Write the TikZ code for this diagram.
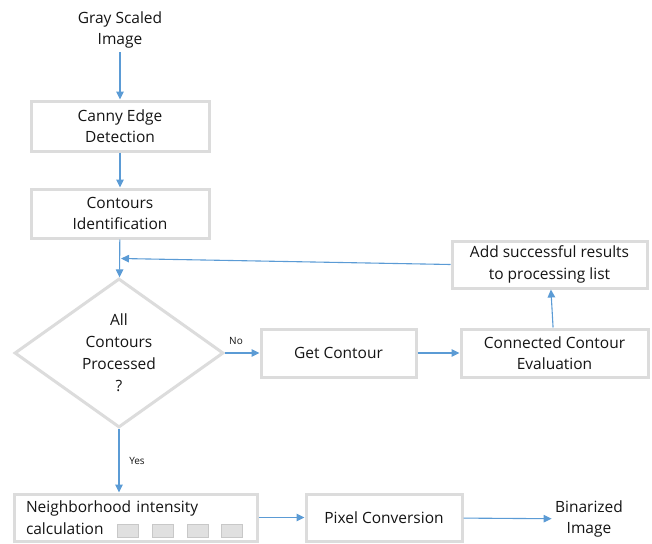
\documentclass[tikz,border=0pt]{standalone}
\usepackage{fontspec}
\setmainfont{Open Sans}
\usepackage{tikz}
\usetikzlibrary{positioning,arrows.meta,shapes.geometric}

\definecolor{boxgray}{RGB}{220,220,220}
\definecolor{flowblue}{RGB}{91,155,213}
\definecolor{txtdark}{RGB}{20,20,20}
\definecolor{cellfill}{RGB}{224,224,224}
\definecolor{cellline}{RGB}{200,200,200}

\tikzset{
    stepbox/.style={draw=boxgray, line width=3pt, align=center, inner sep=0pt,
        text=txtdark, font=\fontsize{15.5}{21.5}\selectfont},
    plaintxt/.style={align=center, text=txtdark, font=\fontsize{15.5}{21.5}\selectfont},
    decision/.style={diamond, aspect=1.4, draw=boxgray, line width=3pt, align=center,
        inner sep=0pt, minimum width=209pt, minimum height=149pt, text=txtdark,
        font=\fontsize{15.5}{22}\selectfont},
    flow/.style={draw=flowblue, line width=1.1pt, -{Triangle[length=8pt,width=7.5pt]}},
    smalllbl/.style={text=txtdark, font=\fontsize{10}{12}\selectfont, inner sep=0pt},
    cellbox/.style={fill=cellfill, draw=cellline, line width=0.8pt}
}

\begin{document}
\begin{tikzpicture}[x=1pt, y=-1pt]
        \useasboundingbox (0,0) rectangle (652,543);

        % Input
        \node[plaintxt] (gray) at (120,30) {Gray Scaled\\Image};

        % Main column
        \node[stepbox, minimum width=178pt, minimum height=50pt] (canny) at (120,126) {Canny Edge\\Detection};
        \node[stepbox, minimum width=178pt, minimum height=49pt] (contours) at (120,213.5) {Contours\\Identification};
        \node[decision] (allproc) at (119,353) {All\\Contours\\Processed\\?};

        % Loop
        \node[stepbox, minimum width=155pt, minimum height=48pt] (getc) at (338.5,353) {Get Contour};
        \node[stepbox, minimum width=187pt, minimum height=48pt] (conneval) at (554.5,353) {Connected Contour\\Evaluation};
        \node[stepbox, minimum width=195pt, minimum height=47pt] (addres) at (549.5,264.5) {Add successful results\\to processing list};
        \coordinate (merge) at (121,258.5);

        % Bottom row
        \node[stepbox, minimum width=243pt, minimum height=47pt, text width=219pt, align=left] (neigh) at (135.5,517.5) {Neighborhood intensity\\calculation};
        \foreach \x in {117,152,187,221} {
            \draw[cellbox] (\x,524) rectangle ++(21,13);
        }
        \node[stepbox, minimum width=156pt, minimum height=47pt] (pixconv) at (384,517.5) {Pixel Conversion};
        \node[plaintxt] (binar) at (589,519) {Binarized\\Image};

        % Labels
        \node[smalllbl] (nolbl) at (236,341) {No};
        \node[smalllbl] (yeslbl) at (137,461) {Yes};

        % Connectors
        \draw[flow] (gray) -- (canny);
        \draw[flow] (canny) -- (contours);
        \draw[flow] (contours) -- (allproc);
        \draw[flow] (allproc.east) -- (getc);
        \draw[flow] (getc) -- (conneval);
        \draw[flow] (conneval) -- (addres);
        \draw[flow] (addres.west) -- (merge);
        \draw[flow] (allproc.south) -- (neigh.north -| allproc.south);
        \draw[flow] (neigh.east) -- (pixconv);
        \draw[flow] (pixconv) -- (binar);
\end{tikzpicture}
\end{document}
